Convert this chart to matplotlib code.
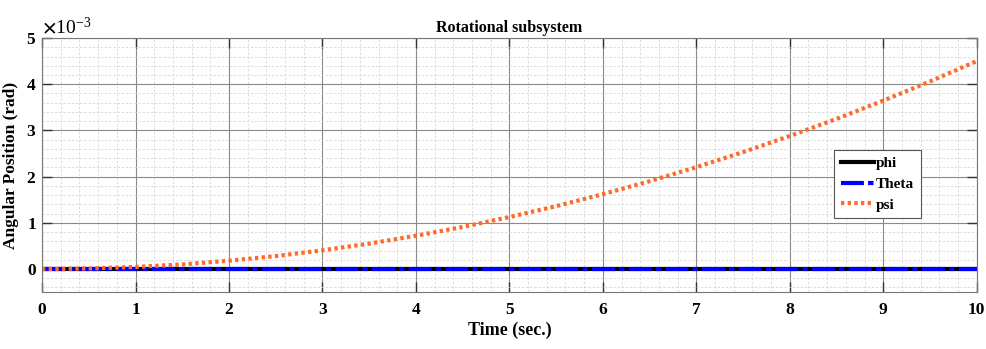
import numpy as np
import matplotlib
matplotlib.use("Agg")
import matplotlib.pyplot as plt
from matplotlib.ticker import MultipleLocator, ScalarFormatter

plt.rcParams['font.family'] = ['Liberation Serif', 'DejaVu Serif']
plt.rcParams['font.weight'] = 'bold'
plt.rcParams['mathtext.fontset'] = 'stix'

# simulation output (rad)
time = [0, 0.5, 1, 1.5, 2, 2.5, 3, 3.5, 4, 4.5, 5, 5.5, 6, 6.5, 7, 7.5, 8, 8.5, 9, 9.5, 10]
phi = [0.0] * len(time)
theta = [0.0] * len(time)
psi = [0.0, 0.012e-3, 0.045e-3, 0.10e-3, 0.18e-3, 0.28e-3, 0.405e-3, 0.55e-3,
       0.72e-3, 0.91e-3, 1.125e-3, 1.36e-3, 1.62e-3, 1.90e-3, 2.205e-3, 2.53e-3,
       2.88e-3, 3.25e-3, 3.645e-3, 4.06e-3, 4.5e-3]

fig = plt.figure(figsize=(9.87, 3.49), dpi=100)
ax = fig.add_axes([0.0426, 0.163, 0.947, 0.728])

ax.plot(time, phi, color='black', lw=3, label='phi')
ax.plot(time, theta, color='#0000FF', lw=3, ls=(0, (5.5, 1, 1.3, 1)), label='Theta')
ax.plot(time, psi, color='#FF6A2B', lw=3, ls=(0, (0.8, 0.8)), label='psi')

ax.set_xlim(0, 10)
ax.set_ylim(-0.5e-3, 5e-3)
ax.xaxis.set_major_locator(MultipleLocator(1))
ax.xaxis.set_minor_locator(MultipleLocator(0.2))
ax.yaxis.set_major_locator(MultipleLocator(1e-3))
ax.yaxis.set_minor_locator(MultipleLocator(0.2e-3))

fmt = ScalarFormatter(useMathText=True)
fmt.set_powerlimits((-2, 2))
ax.yaxis.set_major_formatter(fmt)
ax.yaxis.get_offset_text().set_fontsize(14)
ax.yaxis.get_offset_text().set_fontweight('normal')

ax.grid(True, which='major', color='#8a8a8a', lw=0.8)
ax.grid(True, which='minor', color='#d8d8d8', lw=0.6, ls=(0, (3, 2)))
ax.tick_params(which='major', direction='in', top=True, right=True, length=7,
               width=1, colors='#333333', labelcolor='black', labelsize=12.5)
ax.tick_params(axis='x', pad=7)
ax.tick_params(axis='y', pad=4)
ax.tick_params(which='minor', length=0)
for s in ax.spines.values():
    s.set_color('#777777')

ax.set_title('Rotational subsystem', fontsize=11.5, fontweight='bold', pad=4)
ax.set_xlabel('Time (sec.)', fontsize=13, fontweight='bold', labelpad=3)
ax.set_ylabel('Angular Position (rad)', fontsize=12.5, fontweight='bold', labelpad=5)

leg = ax.legend(loc='upper left', bbox_to_anchor=(0.847, 0.56), fontsize=11,
                handlelength=2.2, fancybox=False, framealpha=1, edgecolor='#555555',
                borderaxespad=0, handletextpad=0.1, labelspacing=0.45, borderpad=0.45)
leg.get_frame().set_linewidth(0.8)

fig.savefig('out.png', dpi=100)
